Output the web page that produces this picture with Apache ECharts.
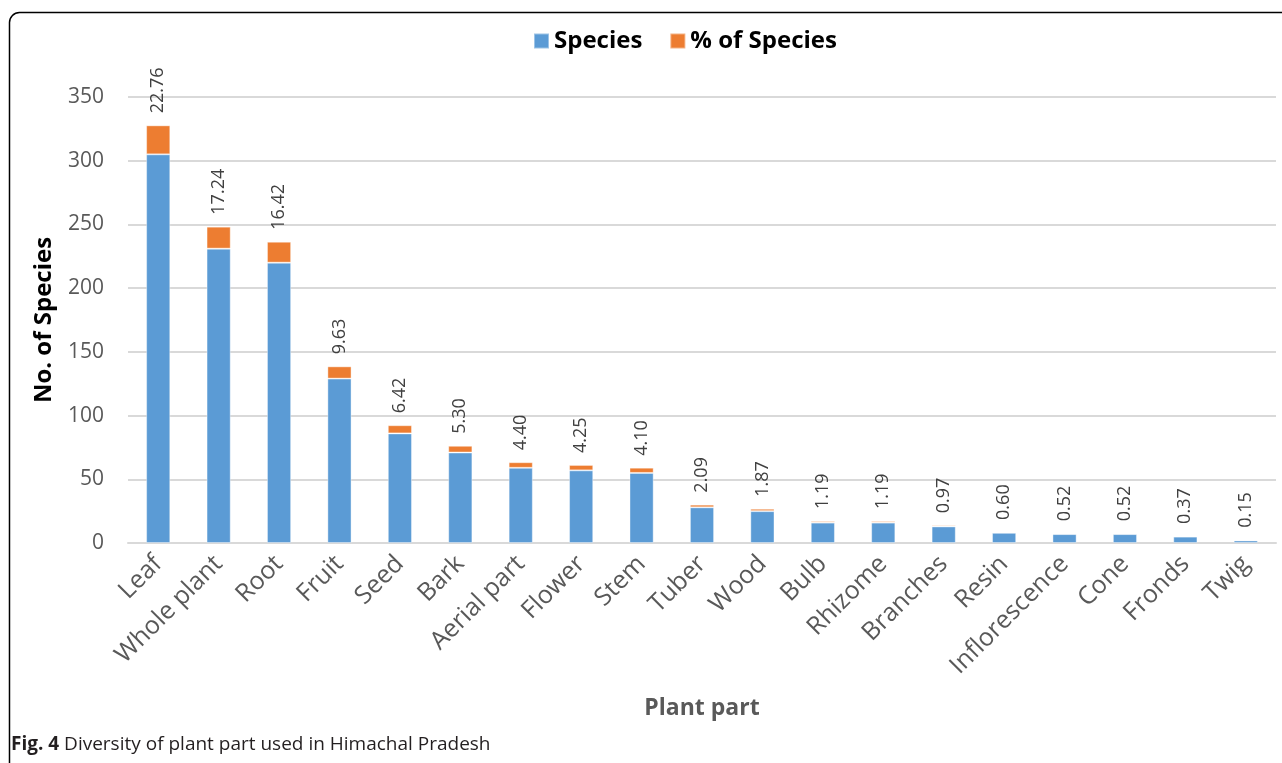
<!DOCTYPE html>
<html>
<head>
<meta charset="utf-8">
<script src="https://cdn.jsdelivr.net/npm/echarts@6/dist/echarts.min.js"></script>
<style>
html,body{margin:0;padding:0;background:#fff;}
#chart{width:1282px;height:763px;}
</style>
</head>
<body>
<div id="chart"></div>
<script>
const categories = ["Leaf","Whole plant","Root","Fruit","Seed","Bark","Aerial part","Flower","Stem","Tuber","Wood","Bulb","Rhizome","Branches","Resin","Inflorescence","Cone","Fronds","Twig"];
const species = [305,231,220,129,86,71,59,57,55,28,25,16,16,13,8,7,7,5,2];
const percentSpecies = [22.76,17.24,16.42,9.63,6.42,5.30,4.40,4.25,4.10,2.09,1.87,1.19,1.19,0.97,0.60,0.52,0.52,0.37,0.15];
const yTicks = [0,50,100,150,200,250,300,350];

const FONT = '"Open Sans", "Noto Sans", sans-serif';
const chart = echarts.init(document.getElementById('chart'));
chart.setOption({
  animation: false,
  backgroundColor: '#fff',
  textStyle: { fontFamily: FONT },
  legend: {
    top: 24,
    left: 528,
    itemWidth: 15,
    itemHeight: 15,
    itemGap: 27,
    icon: 'rect',
    textStyle: { fontFamily: FONT, fontSize: 24, fontWeight: 'bold', color: '#000' },
    data: ['Species', '% of Species']
  },
  grid: { left: 128, right: 6, top: 97, bottom: 220, containLabel: false },
  xAxis: {
    type: 'category',
    data: categories,
    name: 'Plant part',
    nameLocation: 'middle',
    nameGap: 154,
    nameTextStyle: { fontFamily: FONT, fontSize: 23, fontWeight: 'bold', color: '#595959' },
    axisLine: { lineStyle: { color: '#d9d9d9', width: 2 } },
    axisTick: { show: false },
    axisLabel: { rotate: 45, fontSize: 25, color: '#595959', interval: 0, margin: 17, fontFamily: FONT }
  },
  yAxis: {
    type: 'value',
    min: yTicks[0],
    max: yTicks[yTicks.length - 1],
    interval: 50,
    name: 'No. of Species',
    nameLocation: 'middle',
    nameGap: 72,
    nameTextStyle: { fontFamily: FONT, fontSize: 24, fontWeight: 'bold', color: '#000' },
    axisLine: { show: false },
    axisTick: { show: false },
    axisLabel: { fontSize: 21, color: '#595959', margin: 24, fontFamily: FONT },
    splitLine: { lineStyle: { color: '#d9d9d9', width: 2 } }
  },
  series: [
    {
      name: 'Species',
      type: 'bar',
      stack: 'total',
      barWidth: '40%',
      itemStyle: { color: '#5B9BD5', borderColor: 'rgba(255,255,255,0.4)', borderWidth: 1 },
      data: species
    },
    {
      name: '% of Species',
      type: 'bar',
      stack: 'total',
      barWidth: '40%',
      itemStyle: { color: '#ED7D31', borderColor: 'rgba(255,255,255,0.4)', borderWidth: 1 },
      label: {
        show: true,
        position: 'top',
        rotate: 90,
        align: 'left',
        verticalAlign: 'middle',
        distance: 12,
        fontSize: 18,
        color: '#404040',
        fontFamily: FONT,
        formatter: p => Number(p.value).toFixed(2)
      },
      data: percentSpecies
    }
  ],
  graphic: [
    {
      type: 'rect',
      shape: { x: 9.5, y: 12.5, width: 1320, height: 820, r: 10 },
      style: { fill: 'none', stroke: '#000', lineWidth: 1.5 },
      silent: true
    },
    {
      type: 'text',
      left: 11,
      top: 735,
      style: {
        text: '{b|Fig. 4} Diversity of plant part used in Himachal Pradesh',
        rich: {
          b: { fontWeight: 'bold', fontSize: 19, fontFamily: FONT, fill: '#231f20' }
        },
        fontSize: 19,
        fontFamily: FONT,
        fill: '#231f20'
      }
    }
  ]
});
</script>
</body>
</html>
